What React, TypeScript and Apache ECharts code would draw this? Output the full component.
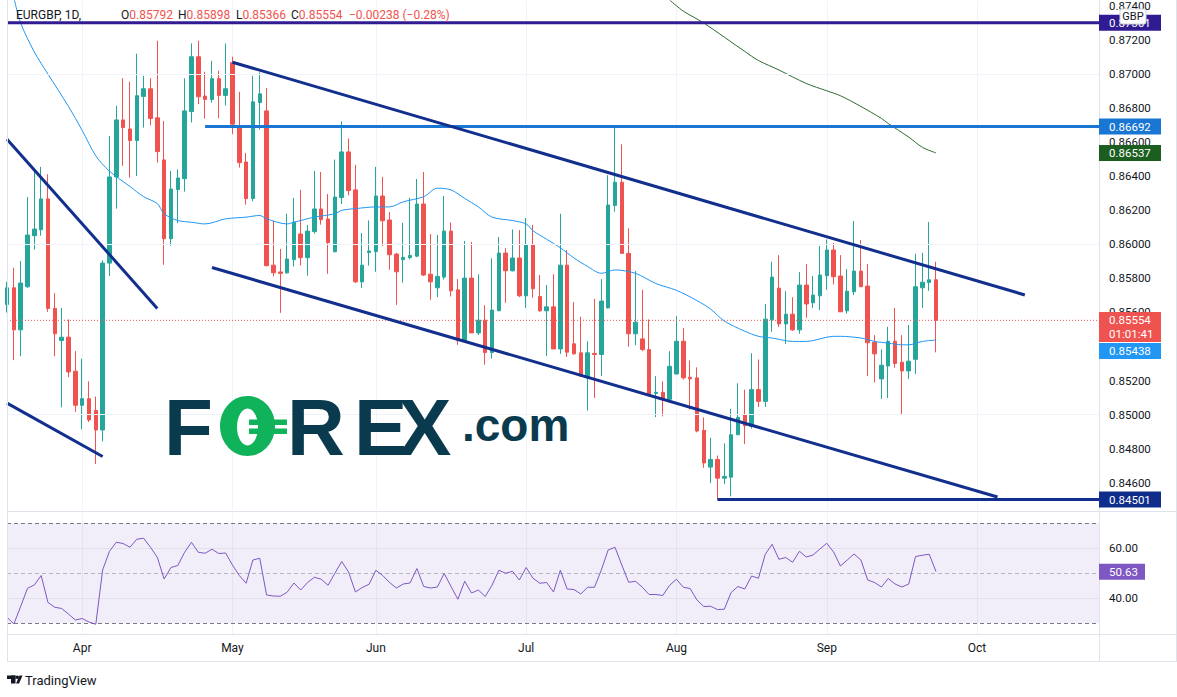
import React, { useEffect, useRef } from "react";
import * as echarts from "echarts";

// ---------- data ----------
const START_DATE = "2021-03-17";
const CATEGORY_COUNT = 161;
const MONTH_NAMES = ["Jan", "Feb", "Mar", "Apr", "May", "Jun", "Jul", "Aug", "Sep", "Oct", "Nov", "Dec"];

const OPEN = [
  0.85647, 0.85745, 0.85498, 0.85751, 0.86051, 0.86086, 0.86267, 0.85624, 0.85435, 0.85455,
  0.85255, 0.85055, 0.85094, 0.85025, 0.8491, 0.8589, 0.86396, 0.86731, 0.86678, 0.8661,
  0.86869, 0.86914, 0.86743, 0.86496, 0.86033, 0.86322, 0.86386, 0.8678, 0.87102, 0.86871,
  0.86851, 0.86973, 0.86875, 0.87067, 0.86686, 0.86484, 0.86269, 0.86833, 0.86784, 0.85878,
  0.85838, 0.85833, 0.8591, 0.86061, 0.85922, 0.86075, 0.86208, 0.86149, 0.85957, 0.86275,
  0.86543, 0.8632, 0.8578, 0.85953, 0.85957, 0.86284, 0.86143, 0.85943, 0.8591, 0.85922,
  0.85931, 0.86237, 0.85825, 0.85745, 0.85808, 0.86078, 0.85733, 0.85435, 0.85802, 0.8548,
  0.85555, 0.85365, 0.8561, 0.85949, 0.85845, 0.8592, 0.85698, 0.85996, 0.85694, 0.8561,
  0.85633, 0.85386, 0.85878, 0.85416, 0.85363, 0.85216, 0.85359, 0.85353, 0.85627, 0.86229,
  0.86365, 0.85947, 0.85475, 0.85445, 0.85382, 0.85124, 0.85131, 0.8509, 0.85239, 0.85431,
  0.8522, 0.85216, 0.84908, 0.84692, 0.84737, 0.84627, 0.84633, 0.84882, 0.85, 0.84931,
  0.85147, 0.85078, 0.85557, 0.85743, 0.85533, 0.8559, 0.85498, 0.85761, 0.85657, 0.85698,
  0.85816, 0.85967, 0.85814, 0.8561, 0.85722, 0.85843, 0.85755, 0.85425, 0.8521, 0.85286,
  0.85431, 0.85308, 0.85257, 0.85325, 0.85745, 0.85776, 0.85792,
];
const HIGH = [
  0.8578, 0.85863, 0.85902, 0.86278, 0.86439, 0.86455, 0.86412, 0.85714, 0.85627, 0.85559,
  0.85373, 0.85329, 0.85196, 0.85106, 0.85906, 0.86637, 0.86814, 0.86976, 0.86955, 0.8712,
  0.8699, 0.86976, 0.87196, 0.86725, 0.86431, 0.86441, 0.86975, 0.8718, 0.87196, 0.87014,
  0.87078, 0.8702, 0.8718, 0.87102, 0.86896, 0.86537, 0.8699, 0.8701, 0.86918, 0.86137,
  0.85973, 0.8618, 0.86273, 0.8632, 0.86114, 0.86431, 0.86425, 0.86296, 0.86498, 0.86722,
  0.86622, 0.86467, 0.86067, 0.86141, 0.86455, 0.86396, 0.8619, 0.8595, 0.86127, 0.86273,
  0.86384, 0.86425, 0.86061, 0.86055, 0.86284, 0.86129, 0.85796, 0.8602, 0.86014, 0.85824,
  0.85643, 0.85918, 0.86043, 0.85978, 0.86088, 0.86084, 0.86155, 0.86114, 0.8582, 0.85761,
  0.85825, 0.8618, 0.85967, 0.85661, 0.85575, 0.85431, 0.8568, 0.85796, 0.86406, 0.86686,
  0.86588, 0.86094, 0.85843, 0.85733, 0.85559, 0.85226, 0.85196, 0.85373, 0.85578, 0.85508,
  0.85318, 0.85278, 0.84984, 0.84863, 0.8476, 0.84831, 0.85035, 0.85184, 0.85147, 0.85361,
  0.85324, 0.85649, 0.85898, 0.85937, 0.85725, 0.8569, 0.85837, 0.85884, 0.85814, 0.8599,
  0.86029, 0.86008, 0.85937, 0.85855, 0.86137, 0.86025, 0.85884, 0.85467, 0.85384, 0.85516,
  0.85627, 0.85467, 0.85527, 0.85945, 0.85951, 0.86131, 0.85898,
];
const LOW = [
  0.856, 0.8532, 0.85343, 0.85745, 0.85969, 0.86051, 0.85604, 0.85343, 0.85043, 0.8522,
  0.85016, 0.84914, 0.84957, 0.8471, 0.84843, 0.85814, 0.8621, 0.86461, 0.86392, 0.86402,
  0.86686, 0.867, 0.8648, 0.8588, 0.85992, 0.86124, 0.8631, 0.86716, 0.86824, 0.86739,
  0.86833, 0.86741, 0.86816, 0.86647, 0.86451, 0.86233, 0.86253, 0.86673, 0.85871, 0.85812,
  0.85598, 0.85827, 0.8587, 0.85876, 0.85816, 0.86063, 0.86116, 0.85827, 0.85953, 0.86237,
  0.86288, 0.85773, 0.85745, 0.85876, 0.85839, 0.8599, 0.85851, 0.85645, 0.85775, 0.85912,
  0.85925, 0.85815, 0.85675, 0.8569, 0.85794, 0.85694, 0.8541, 0.85431, 0.8548, 0.85467,
  0.85294, 0.8533, 0.8561, 0.85657, 0.85841, 0.8569, 0.85627, 0.85686, 0.85604, 0.85345,
  0.85386, 0.85357, 0.85339, 0.85353, 0.85226, 0.85024, 0.85098, 0.85227, 0.85623, 0.86192,
  0.85947, 0.854, 0.85408, 0.85373, 0.85114, 0.84986, 0.8499, 0.85078, 0.85235, 0.85206,
  0.8503, 0.84896, 0.84688, 0.84598, 0.84501, 0.84592, 0.8452, 0.8488, 0.84827, 0.84918,
  0.85045, 0.85045, 0.85486, 0.85514, 0.85416, 0.85492, 0.85475, 0.85569, 0.85627, 0.85614,
  0.85733, 0.85765, 0.85604, 0.85594, 0.85702, 0.85751, 0.85226, 0.8519, 0.85092, 0.85098,
  0.85275, 0.85, 0.8521, 0.85239, 0.85627, 0.85727, 0.85366,
];
const CLOSE = [
  0.85745, 0.85498, 0.85773, 0.86055, 0.8609, 0.86267, 0.85624, 0.85475, 0.85455, 0.85251,
  0.85055, 0.85094, 0.84969, 0.8491, 0.8589, 0.86396, 0.86731, 0.86686, 0.8661, 0.86873,
  0.86914, 0.86739, 0.86545, 0.86033, 0.86325, 0.8639, 0.86784, 0.87102, 0.86867, 0.86851,
  0.86973, 0.86875, 0.86914, 0.86706, 0.8648, 0.86269, 0.86837, 0.86884, 0.85875, 0.85833,
  0.8583, 0.85914, 0.86131, 0.85922, 0.86078, 0.86208, 0.86145, 0.8601, 0.86278, 0.86543,
  0.86316, 0.8578, 0.85878, 0.85961, 0.86284, 0.86139, 0.85939, 0.85839, 0.85924, 0.85935,
  0.86237, 0.8582, 0.8578, 0.85812, 0.86078, 0.85727, 0.85435, 0.85802, 0.8548, 0.85555,
  0.85365, 0.85614, 0.85949, 0.85845, 0.8592, 0.85698, 0.85996, 0.85739, 0.8561, 0.85633,
  0.85386, 0.85878, 0.85367, 0.85357, 0.85226, 0.85363, 0.85353, 0.85667, 0.86231, 0.86365,
  0.85947, 0.85475, 0.85543, 0.85382, 0.85122, 0.85131, 0.8509, 0.85284, 0.85431, 0.85216,
  0.8521, 0.84904, 0.84716, 0.84737, 0.84627, 0.84637, 0.84882, 0.84984, 0.84935, 0.85147,
  0.85078, 0.85561, 0.85808, 0.85533, 0.8559, 0.85498, 0.85761, 0.8565, 0.85702, 0.8582,
  0.85967, 0.8581, 0.85604, 0.85725, 0.85843, 0.85751, 0.85422, 0.85357, 0.8529, 0.85431,
  0.853, 0.85257, 0.85314, 0.85751, 0.85778, 0.85792, 0.85554,
];
const RSI = [
  32.4, 29.7, 36.7, 44.0, 45.3, 49.1, 38.3, 36.4, 35.9, 33.7,
  31.3, 31.9, 30.5, 29.6, 51.3, 58.8, 62.4, 61.9, 60.4, 63.6,
  64.0, 60.4, 56.4, 47.7, 52.3, 53.1, 58.4, 62.4, 58.4, 58.0,
  59.6, 57.9, 58.1, 53.3, 49.1, 46.0, 55.3, 56.0, 41.3, 40.9,
  40.8, 42.4, 46.1, 43.3, 46.3, 48.4, 47.6, 45.2, 50.0, 54.7,
  50.5, 42.5, 44.3, 45.6, 51.2, 49.1, 46.3, 44.1, 45.7, 46.1,
  51.9, 44.7, 44.1, 44.5, 49.9, 44.7, 39.6, 46.8, 42.1, 43.3,
  40.7, 45.2, 51.2, 50.0, 50.8, 47.3, 52.3, 48.0, 46.0, 46.3,
  42.5, 51.2, 43.7, 43.5, 41.7, 44.4, 44.4, 51.3, 59.3, 60.4,
  53.3, 46.4, 46.8, 44.4, 41.5, 41.5, 41.1, 45.2, 47.6, 44.4,
  43.9, 39.3, 36.7, 36.8, 35.5, 35.6, 42.3, 44.7, 43.7, 48.9,
  48.0, 57.6, 61.6, 55.6, 56.3, 54.4, 58.8, 56.5, 57.3, 59.7,
  62.0, 58.5, 52.9, 55.3, 57.7, 55.3, 47.3, 46.3, 44.5, 47.9,
  45.7, 44.5, 45.7, 56.7, 57.2, 57.6, 50.63,
];
// moving averages: [bar index, value]
const MA_FAST = [
  [1, 0.8745], [2, 0.873], [4, 0.8713], [6, 0.87], [9, 0.8681], [11, 0.8667], [13, 0.8652],
  [15, 0.8643], [18, 0.8634], [20, 0.8628], [22, 0.8624], [23, 0.8618], [25, 0.8614], [27, 0.8613],
  [29, 0.8612], [32, 0.8615], [35, 0.8616], [37, 0.8617], [38, 0.8615], [41, 0.8612], [42, 0.8613],
  [45, 0.8616], [48, 0.8618], [49, 0.862], [51, 0.8621], [54, 0.8622], [56, 0.8622], [58, 0.8625],
  [61, 0.8628], [63, 0.8633], [65, 0.8632], [67, 0.8627], [69, 0.8622], [71, 0.8616], [74, 0.8614],
  [76, 0.8612], [77, 0.8608], [79, 0.8603], [81, 0.8598], [83, 0.8592], [85, 0.8587], [87, 0.8583],
  [89, 0.8585], [92, 0.8583], [95, 0.8577], [98, 0.8573], [101, 0.8567], [103, 0.8562], [105, 0.8555],
  [108, 0.8549], [110, 0.8546], [112, 0.8545], [115, 0.8543], [117, 0.8543], [121, 0.8546], [122, 0.8546],
  [125, 0.8545], [127, 0.8543], [129, 0.8542], [131, 0.8541], [132, 0.8541], [134, 0.8543], [136, 0.85438],
];
const MA_SLOW = [
  [97, 0.87435], [99, 0.8737], [102, 0.873], [108, 0.87133], [110, 0.8708], [113, 0.87024],
  [117, 0.86945], [120, 0.86902], [122, 0.86873], [125, 0.8681], [128, 0.8674], [129, 0.8671],
  [132, 0.8663], [134, 0.8657], [136, 0.86537],
];
// drawn trendlines: [bar index, price]
const CHANNEL_UPPER = [[33, 0.8707], [149, 0.85703]];
const CHANNEL_LOWER = [[30, 0.85864], [145, 0.84516]];
const WEDGE_UPPER = [[0, 0.86618], [22, 0.85624]];
const WEDGE_LOWER = [[0, 0.85068], [14, 0.84754]];
// horizontal levels
const LEVEL_TOP = 0.87301;
const LEVEL_RESIST = 0.86692;
const LEVEL_RESIST_FROM = 29;
const LEVEL_SUPPORT = 0.84501;
const LEVEL_SUPPORT_FROM = 104;
const COUNTDOWN = "01:01:41";
// axis ticks
const PRICE_TICKS = [
  0.846, 0.848, 0.85, 0.852, 0.854, 0.856, 0.858, 0.86, 0.862, 0.864, 0.866, 0.868, 0.87, 0.872, 0.874,
];
const RSI_TICKS = [40, 60];
const RSI_BANDS = [70, 50, 30];
const Y_MIN = 0.8444;
const Y_MAX = 0.874305;
const RSI_MIN = 25.7;
const RSI_MAX = 74.1;

// ---------- helpers ----------
function tradingDays(start: string, count: number): string[] {
  const out: string[] = [];
  const d = new Date(start + "T00:00:00Z");
  while (out.length < count) {
    const wd = d.getUTCDay();
    if (wd !== 0 && wd !== 6) out.push(d.toISOString().slice(0, 10));
    d.setUTCDate(d.getUTCDate() + 1);
  }
  return out;
}
const DATES = tradingDays(START_DATE, CATEGORY_COUNT);
const isMonthStart = (i: number) => i > 0 && DATES[i].slice(5, 7) !== DATES[i - 1].slice(5, 7);
const monthLabel = (v: string) => MONTH_NAMES[parseInt(v.slice(5, 7), 10) - 1];
const LAST = CLOSE.length - 1;

const UP = "#26A69A";
const DOWN = "#EF5350";
const NAVY = "#122F8E";
const TXT = "#131722";
const FONT = "Roboto";

function hLine(name: string, from: number, value: number, color: string, width: number, type: any = "solid") {
  return {
    name,
    type: "line",
    xAxisIndex: 0,
    yAxisIndex: 0,
    data: [[from, value], [CATEGORY_COUNT - 1, value]],
    symbol: "none",
    silent: true,
    z: 4,
    lineStyle: { color, width, type },
  };
}
function segLine(name: string, pts: number[][]) {
  return {
    name,
    type: "line",
    xAxisIndex: 0,
    yAxisIndex: 0,
    data: pts,
    symbol: "none",
    silent: true,
    z: 5,
    lineStyle: { color: NAVY, width: 3 },
  };
}

function buildOption(): any {
  const candles = OPEN.map((o, i) => [o, CLOSE[i], LOW[i], HIGH[i]]);
  const splitLine = { show: true, interval: (i: number) => isMonthStart(i), lineStyle: { color: "#F0F3FA", width: 1 } };
  return {
    animation: false,
    backgroundColor: "#ffffff",
    textStyle: { fontFamily: FONT },
    grid: [
      { left: 7, top: 0, width: 1093, height: 510 },
      { left: 7, top: 513, width: 1093, height: 121 },
    ],
    xAxis: [
      {
        type: "category", gridIndex: 0, data: DATES, boundaryGap: false,
        axisLine: { show: false }, axisTick: { show: false }, axisLabel: { show: false }, splitLine,
      },
      {
        type: "category", gridIndex: 1, data: DATES, boundaryGap: false,
        axisLine: { show: true, lineStyle: { color: "#E0E3EB" } }, axisTick: { show: false },
        axisLabel: { interval: (i: number) => isMonthStart(i), formatter: monthLabel, color: TXT, fontSize: 12, margin: 8, fontFamily: FONT },
        splitLine,
      },
    ],
    yAxis: [
      {
        type: "value", gridIndex: 0, position: "right", min: Y_MIN, max: Y_MAX,
        splitLine: { show: false }, axisLine: { show: false }, axisTick: { show: false },
        axisLabel: { customValues: PRICE_TICKS, formatter: (v: number) => v.toFixed(5), color: TXT, fontSize: 11.5, margin: 9, fontFamily: FONT },
      },
      {
        type: "value", gridIndex: 1, position: "right", min: RSI_MIN, max: RSI_MAX,
        splitLine: { show: false }, axisLine: { show: false }, axisTick: { show: false },
        axisLabel: { customValues: RSI_TICKS, formatter: (v: number) => v.toFixed(2), color: TXT, fontSize: 11.5, margin: 9, fontFamily: FONT },
      },
    ],
    series: [
      {
        name: "grid",
        type: "line",
        xAxisIndex: 0,
        yAxisIndex: 0,
        data: [],
        z: 1,
        silent: true,
        markLine: {
          silent: true, symbol: "none", label: { show: false },
          lineStyle: { color: "#F0F3FA", width: 1, type: "solid" },
          data: PRICE_TICKS.map((v) => ({ yAxis: v })),
        },
      },
      {
        name: "EURGBP",
        type: "candlestick",
        xAxisIndex: 0,
        yAxisIndex: 0,
        data: candles,
        barWidth: 4,
        z: 3,
        silent: true,
        itemStyle: { color: UP, color0: DOWN, borderColor: UP, borderColor0: DOWN, borderWidth: 1 },
      },
      {
        name: "MA fast", type: "line", xAxisIndex: 0, yAxisIndex: 0, data: MA_FAST, symbol: "none",
        silent: true, z: 4, smooth: 0.3, lineStyle: { color: "#2196F3", width: 1 },
      },
      {
        name: "MA slow", type: "line", xAxisIndex: 0, yAxisIndex: 0, data: MA_SLOW, symbol: "none",
        silent: true, z: 4, smooth: 0.3, lineStyle: { color: "#2E6B30", width: 1 },
      },
      hLine("last", 0, CLOSE[LAST], DOWN, 1, [1, 2]),
      hLine("top level", 0, LEVEL_TOP, "#311B92", 3),
      hLine("resistance", LEVEL_RESIST_FROM, LEVEL_RESIST, "#1976D2", 3),
      hLine("support", LEVEL_SUPPORT_FROM, LEVEL_SUPPORT, NAVY, 3),
      segLine("channel upper", CHANNEL_UPPER),
      segLine("channel lower", CHANNEL_LOWER),
      segLine("wedge upper", WEDGE_UPPER),
      segLine("wedge lower", WEDGE_LOWER),
      {
        name: "RSI",
        type: "line",
        xAxisIndex: 1,
        yAxisIndex: 1,
        data: RSI,
        symbol: "none",
        silent: true,
        z: 5,
        lineStyle: { color: "#7E57C2", width: 1 },
        markArea: {
          silent: true,
          itemStyle: { color: "rgba(126,87,194,0.1)" },
          data: [[{ yAxis: RSI_BANDS[0] }, { yAxis: RSI_BANDS[2] }]],
        },
        markLine: {
          silent: true, symbol: "none", label: { show: false },
          data: [
            ...RSI_TICKS.map((v) => ({ yAxis: v, lineStyle: { color: "rgba(42,46,57,0.07)", width: 1, type: "solid" } })),
            { yAxis: RSI_BANDS[0], lineStyle: { color: "#787B86", width: 1, type: [4, 3] } },
            { yAxis: RSI_BANDS[1], lineStyle: { color: "rgba(120,123,134,0.5)", width: 1, type: [4, 3] } },
            { yAxis: RSI_BANDS[2], lineStyle: { color: "#787B86", width: 1, type: [4, 3] } },
          ],
        },
      },
    ],
  };
}

function txt(x: number, y: number, text: string, fill: string, font: string, z = 110, align = "left") {
  return {
    type: "text", x, y, z, silent: true,
    style: { text, fill, font, align, textAlign: align, verticalAlign: "middle", textVerticalAlign: "middle" },
  };
}
function richTxt(x: number, y: number, label: string, value: string, z = 110) {
  return {
    type: "text", x, y, z, silent: true,
    style: {
      text: `{l|${label}}{v|${value}}`,
      align: "left", textAlign: "left", verticalAlign: "middle", textVerticalAlign: "middle",
      rich: {
        l: { fill: TXT, fontSize: 12, fontFamily: FONT },
        v: { fill: DOWN, fontSize: 12, fontFamily: FONT },
      },
    },
  };
}
function rect(x: number, y: number, w: number, h: number, fill: string, z = 100, stroke?: string, r = 0) {
  return {
    type: "rect", z, silent: true,
    shape: { x, y, width: w, height: h, r },
    style: stroke ? { fill, stroke, lineWidth: 1 } : { fill },
  };
}
function line(x1: number, y1: number, x2: number, y2: number, color = "#E0E3EB") {
  return { type: "line", z: 90, silent: true, shape: { x1, y1, x2, y2 }, style: { stroke: color, lineWidth: 1 } };
}

export default function App() {
  const ref = useRef<HTMLDivElement>(null);
  useEffect(() => {
    const el = ref.current!;
    const chart = echarts.init(el, undefined, { renderer: "svg" });
    chart.setOption(buildOption());

    const py = (v: number) => chart.convertToPixel({ yAxisIndex: 0 }, v) as number;
    const ry = (v: number) => chart.convertToPixel({ yAxisIndex: 1 }, v) as number;
    const TAG_X = 1099;
    const TAG_W = 62;
    const tagFont = `11.5px ${FONT}`;
    const tag = (yc: number, color: string, label: string, w = TAG_W) => [
      rect(TAG_X, yc - 8, w, 16, color, 100),
      txt(1109, yc, label, "#ffffff", tagFont, 101),
    ];

    const els: any[] = [];
    // frame lines
    els.push(line(7.5, 0, 7.5, 661.5));
    els.push(line(1099.5, 0, 1099.5, 661.5));
    els.push(line(1176.5, 0, 1176.5, 661.5));
    els.push(line(7, 511.5, 1177, 511.5));
    els.push(line(1100, 634.5, 1177, 634.5));
    els.push(line(7, 661.5, 1177, 661.5));

    // price tags
    els.push(...tag(py(LEVEL_TOP), "#311B92", LEVEL_TOP.toFixed(5)));
    els.push(rect(1120, 9, 26, 15, "#ffffff", 102, "#D1D4DC", 2));
    els.push(txt(1133, 16.5, "GBP", TXT, `11px ${FONT}`, 103, "center"));
    els.push(...tag(py(LEVEL_RESIST), "#1976D2", LEVEL_RESIST.toFixed(5)));
    const slowLast = MA_SLOW[MA_SLOW.length - 1][1];
    els.push(...tag(py(slowLast), "#1B5E20", slowLast.toFixed(5)));
    const lastY = py(CLOSE[LAST]);
    els.push(rect(TAG_X, lastY - 8.3, TAG_W, 30, DOWN, 100));
    els.push(txt(1109, lastY, CLOSE[LAST].toFixed(5), "#ffffff", tagFont, 101));
    els.push(txt(1109, lastY + 13.5, COUNTDOWN, "#ffffff", tagFont, 101));
    const fastLast = MA_FAST[MA_FAST.length - 1][1];
    const fastY = Math.max(py(fastLast), lastY + 21.7 + 9);
    els.push(...tag(fastY, "#2196F3", fastLast.toFixed(5)));
    els.push(...tag(py(LEVEL_SUPPORT), "#0F2E8C", LEVEL_SUPPORT.toFixed(5)));
    els.push(...tag(ry(RSI[LAST]), "#7E57C2", RSI[LAST].toFixed(2), 46));

    // header
    const hf = `12px ${FONT}`;
    const hy = 15;
    const change = CLOSE[LAST] - CLOSE[LAST - 1];
    const pct = (change / CLOSE[LAST - 1]) * 100;
    els.push(txt(16, hy, "EURGBP, 1D,", TXT, hf, 110));
    els.push(richTxt(121, hy, "O", OPEN[LAST].toFixed(5)));
    els.push(richTxt(178, hy, "H", HIGH[LAST].toFixed(5)));
    els.push(richTxt(236, hy, "L", LOW[LAST].toFixed(5)));
    els.push(richTxt(291, hy, "C", CLOSE[LAST].toFixed(5)));
    els.push(
      txt(349, hy, `\u2212${Math.abs(change).toFixed(5)} (\u2212${Math.abs(pct).toFixed(2)}%)`, DOWN, hf, 110)
    );

    // FOREX.com watermark
    const DARK = "#0A3A4E";
    const GREEN = "#10B25A";
    const big = `bold 80px "Liberation Sans"`;
    els.push(txt(164, 427, "F", DARK, big, 60));
    els.push({ type: "ellipse", z: 60, silent: true, shape: { cx: 247.5, cy: 426, rx: 27.5, ry: 30 }, style: { fill: GREEN } });
    els.push({ type: "ellipse", z: 61, silent: true, shape: { cx: 247.5, cy: 427, rx: 10.5, ry: 18.5 }, style: { fill: "#ffffff" } });
    els.push(rect(249, 419.5, 38, 5.5, GREEN, 62));
    els.push(rect(249, 428.5, 38, 5.5, GREEN, 62));
    els.push(txt(287, 427, "R", DARK, big, 60));
    els.push(txt(354, 427, "E", DARK, big, 60));
    els.push(txt(398, 427, "X", DARK, big, 60));
    els.push(txt(462, 425, ".com", DARK, `bold 46px "Liberation Sans"`, 60));

    // TradingView logo
    els.push(rect(7, 675.5, 8.5, 3.5, TXT, 110));
    els.push(rect(11, 675.5, 4.5, 8, TXT, 110));
    els.push({ type: "circle", z: 110, silent: true, shape: { cx: 17.3, cy: 677.3, r: 1.7 }, style: { fill: TXT } });
    els.push({
      type: "polygon", z: 110, silent: true,
      shape: { points: [[16, 683.5], [19, 683.5], [22.5, 675.5], [19.5, 675.5]] },
      style: { fill: TXT },
    });
    els.push(txt(25, 680, "TradingView", TXT, `13px ${FONT}`, 110));

    chart.setOption({ graphic: { elements: els } });
    return () => chart.dispose();
  }, []);
  return (
    <div
      ref={ref}
      style={{ position: "absolute", left: 0, top: 0, width: 1177, height: 697, background: "#ffffff" }}
    />
  );
}
